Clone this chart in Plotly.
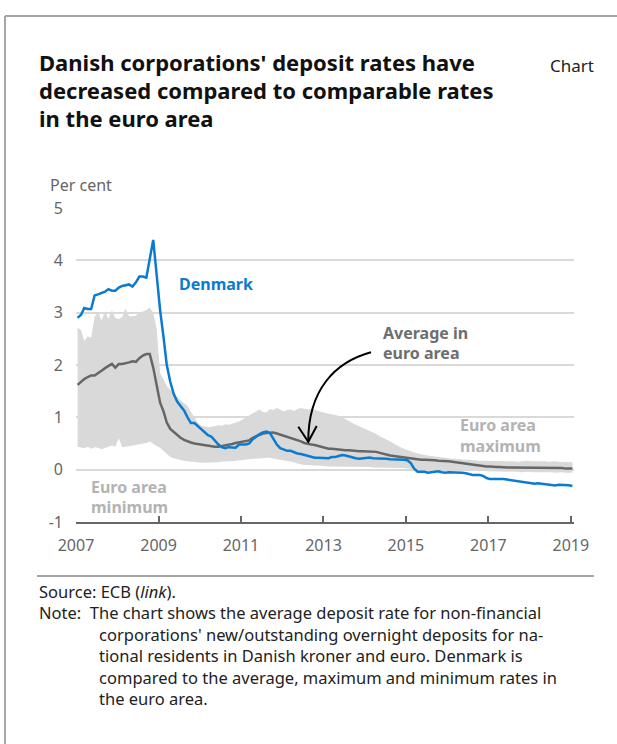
import plotly.graph_objects as go

# ---------------- data ----------------
months = [f"{2007 + m // 12}-{m % 12 + 1:02d}-15" for m in range(145)]  # Jan 2007 .. Jan 2019

denmark = [2.90, 2.96, 3.09, 3.07, 3.07, 3.33, 3.35, 3.37, 3.40, 3.45, 3.42, 3.42,
           3.48, 3.51, 3.52, 3.54, 3.50, 3.58, 3.69, 3.69, 3.67, 4.04, 4.39, 3.73,
           3.05, 2.52, 2.00, 1.68, 1.45, 1.30, 1.22, 1.13, 1.00, 0.89, 0.89, 0.83,
           0.76, 0.70, 0.66, 0.63, 0.55, 0.48, 0.43, 0.41, 0.43, 0.43, 0.42, 0.48,
           0.48, 0.48, 0.50, 0.58, 0.63, 0.68, 0.71, 0.73, 0.70, 0.60, 0.48, 0.41,
           0.38, 0.36, 0.36, 0.33, 0.31, 0.30, 0.28, 0.26, 0.24, 0.23, 0.23, 0.23,
           0.22, 0.22, 0.24, 0.24, 0.26, 0.28, 0.27, 0.25, 0.23, 0.22, 0.21, 0.22,
           0.23, 0.23, 0.22, 0.22, 0.22, 0.21, 0.21, 0.20, 0.20, 0.20, 0.19, 0.19,
           0.18, 0.12, 0.02, -0.04, -0.04, -0.04, -0.06, -0.05, -0.04, -0.03, -0.05, -0.06,
           -0.05, -0.05, -0.06, -0.06, -0.06, -0.07, -0.09, -0.10, -0.10, -0.10, -0.12, -0.16,
           -0.18, -0.18, -0.17, -0.17, -0.18, -0.19, -0.20, -0.21, -0.21, -0.22, -0.23, -0.24,
           -0.26, -0.27, -0.26, -0.27, -0.28, -0.29, -0.30, -0.30, -0.29, -0.29, -0.30, -0.30,
           -0.31]

euro_avg = [1.62, 1.68, 1.73, 1.77, 1.80, 1.80, 1.84, 1.89, 1.94, 1.98, 2.02, 1.95,
            2.02, 2.02, 2.03, 2.05, 2.07, 2.06, 2.13, 2.18, 2.21, 2.21, 1.95, 1.62,
            1.28, 1.11, 0.90, 0.78, 0.72, 0.66, 0.61, 0.57, 0.54, 0.52, 0.50, 0.49,
            0.47, 0.46, 0.45, 0.44, 0.44, 0.44, 0.45, 0.46, 0.47, 0.49, 0.51, 0.52,
            0.53, 0.54, 0.56, 0.61, 0.64, 0.67, 0.69, 0.70, 0.71, 0.71, 0.69, 0.67,
            0.64, 0.62, 0.60, 0.58, 0.56, 0.54, 0.51, 0.49, 0.48, 0.47, 0.45, 0.43,
            0.41, 0.40, 0.40, 0.39, 0.38, 0.38, 0.37, 0.37, 0.36, 0.36, 0.35, 0.35,
            0.35, 0.35, 0.34, 0.34, 0.32, 0.30, 0.29, 0.27, 0.26, 0.25, 0.24, 0.23,
            0.22, 0.21, 0.20, 0.19, 0.19, 0.19, 0.19, 0.18, 0.18, 0.17, 0.17, 0.16,
            0.16, 0.15, 0.14, 0.14, 0.13, 0.12, 0.11, 0.10, 0.09, 0.08, 0.07, 0.06,
            0.06, 0.05, 0.05, 0.05, 0.04, 0.04, 0.04, 0.04, 0.04, 0.04, 0.04, 0.04,
            0.04, 0.03, 0.03, 0.03, 0.04, 0.03, 0.03, 0.03, 0.03, 0.03, 0.02, 0.02,
            0.02]

euro_max = [2.71, 2.67, 2.46, 2.55, 2.52, 2.92, 3.02, 2.85, 3.02, 2.88, 3.05, 2.90,
            2.88, 2.92, 3.08, 2.93, 2.93, 2.94, 3.01, 3.02, 3.05, 3.10, 3.00, 2.70,
            1.85, 1.72, 1.60, 1.52, 1.45, 1.38, 1.32, 1.27, 1.22, 1.10, 0.99, 0.90,
            0.84, 0.82, 0.81, 0.82, 0.84, 0.85, 0.84, 0.87, 0.86, 0.88, 0.90, 0.92,
            0.96, 1.00, 1.05, 1.08, 1.11, 1.15, 1.10, 1.09, 1.16, 1.14, 1.18, 1.15,
            1.11, 1.14, 1.15, 1.12, 1.16, 1.18, 1.17, 1.15, 1.16, 1.15, 1.12, 1.10,
            1.09, 1.07, 1.06, 1.05, 1.03, 1.00, 0.96, 0.93, 0.89, 0.86, 0.83, 0.80,
            0.77, 0.74, 0.72, 0.68, 0.64, 0.61, 0.57, 0.54, 0.50, 0.46, 0.43, 0.40,
            0.37, 0.35, 0.33, 0.31, 0.30, 0.28, 0.27, 0.26, 0.25, 0.24, 0.24, 0.23,
            0.22, 0.21, 0.21, 0.20, 0.20, 0.19, 0.19, 0.18, 0.18, 0.17, 0.17, 0.17,
            0.16, 0.17, 0.17, 0.16, 0.16, 0.17, 0.16, 0.16, 0.15, 0.16, 0.16, 0.17,
            0.16, 0.16, 0.17, 0.16, 0.16, 0.15, 0.16, 0.16, 0.15, 0.15, 0.14, 0.15,
            0.14]

euro_min = [0.44, 0.43, 0.41, 0.44, 0.40, 0.43, 0.42, 0.39, 0.42, 0.44, 0.46, 0.44,
            0.60, 0.43, 0.44, 0.45, 0.47, 0.48, 0.48, 0.49, 0.51, 0.54, 0.49, 0.45,
            0.42, 0.36, 0.29, 0.24, 0.22, 0.20, 0.19, 0.17, 0.16, 0.15, 0.14, 0.13,
            0.13, 0.13, 0.13, 0.13, 0.14, 0.14, 0.15, 0.16, 0.16, 0.16, 0.17, 0.18,
            0.19, 0.19, 0.20, 0.21, 0.21, 0.22, 0.22, 0.23, 0.23, 0.21, 0.20, 0.19,
            0.18, 0.17, 0.16, 0.14, 0.12, 0.10, 0.09, 0.09, 0.08, 0.08, 0.08, 0.07,
            0.07, 0.06, 0.06, 0.06, 0.06, 0.06, 0.06, 0.06, 0.05, 0.05, 0.05, 0.05,
            0.05, 0.05, 0.04, 0.04, 0.04, 0.04, 0.03, 0.03, 0.03, 0.03, 0.03, 0.03,
            0.02, 0.02, 0.01, 0.01, 0.01, 0.00, 0.00, 0.01, 0.00, 0.00, -0.01, 0.00,
            -0.01, -0.01, -0.01, -0.02, -0.01, -0.02, -0.02, -0.02, -0.02, -0.03, -0.02, -0.03,
            -0.03, -0.03, -0.04, -0.03, -0.03, -0.04, -0.04, -0.04, -0.04, -0.05, -0.04, -0.04,
            -0.05, -0.05, -0.04, -0.05, -0.05, -0.05, -0.05, -0.06, -0.05, -0.05, -0.06, -0.06,
            -0.06]

x_tick_years = ["2007", "2009", "2011", "2013", "2015", "2017", "2019"]
y_ticks = [-1, 0, 1, 2, 3, 4, 5]
y_tick_labels = ["-1", "0", "1", "2", "3", "4", "5"]

# ---------------- layout helpers (pixel -> paper) ----------------
W, H = 617, 744
L, R, T, B = 76, 43, 208, 222
PW, PH = W - L - R, H - T - B


def px(x):
    return (x - L) / PW


def py(y):
    return (H - B - y) / PH


BLUE = "#0a7bd1"
DARK = "#666666"
BAND = "#d9d9d9"
FONT = "Noto Sans"

fig = go.Figure()
fig.add_trace(go.Scatter(x=months, y=euro_max, mode="lines", line=dict(width=0, color=BAND),
                         hoverinfo="skip", showlegend=False))
fig.add_trace(go.Scatter(x=months, y=euro_min, mode="lines", line=dict(width=0, color=BAND),
                         fill="tonexty", fillcolor=BAND, hoverinfo="skip", showlegend=False))
fig.add_trace(go.Scatter(x=months, y=euro_avg, mode="lines", line=dict(width=2.5, color=DARK),
                         name="Average in euro area", showlegend=False))
fig.add_trace(go.Scatter(x=months, y=denmark, mode="lines", line=dict(width=2.5, color=BLUE),
                         name="Denmark", showlegend=False))

annotations = []


def text(x, y, s, size=16, color="#222222", bold=False, anchor="left"):
    if bold:
        s = f"<b>{s}</b>"
    annotations.append(dict(x=px(x), y=py(y), xref="paper", yref="paper", text=s,
                            showarrow=False, xanchor=anchor, yanchor="middle", align="left",
                            font=dict(family=FONT, size=size, color=color)))


# Title
text(37, 62, "Danish corporations' deposit rates have", 22, "#111111", True)
text(37, 90, "decreased compared to comparable rates", 22, "#111111", True)
text(37, 118, "in the euro area", 22, "#111111", True)
text(548, 65, "Chart", 17, "#222222")
text(48, 185, "Per cent", 16, "#666666")

# Series labels
text(177, 284, "Denmark", 16, BLUE, True)
text(381, 333, "Average in", 16, "#6e6e6e", True)
text(381, 353, "euro area", 16, "#6e6e6e", True)
text(458, 425, "Euro area", 16, "#b3b3b3", True)
text(458, 446, "maximum", 16, "#b3b3b3", True)
text(89, 487, "Euro area", 16, "#b3b3b3", True)
text(89, 507, "minimum", 16, "#b3b3b3", True)

# Source / note (one block, hanging indent made with non-breaking spaces)
NOTE_SIZE = 16.5
IND = "&nbsp;" * 14
text(37, 644.5,
     "Source: ECB (<i>link</i>).<br>"
     "Note:&nbsp;&nbsp;The chart shows the average deposit rate for non-financial<br>"
     + IND + "corporations' new/outstanding overnight deposits for na-<br>"
     + IND + "tional residents in Danish kroner and euro. Denmark is<br>"
     + IND + "compared to the average, maximum and minimum rates in<br>"
     + IND + "the euro area.", NOTE_SIZE)


def pt(x, y):
    return f"{px(x):.5f},{py(y):.5f}"


shapes = [
    # frame
    dict(type="line", xref="paper", yref="paper", x0=px(5), x1=px(W + 5), y0=py(16), y1=py(16),
         line=dict(color="#a6a6a6", width=2)),
    dict(type="line", xref="paper", yref="paper", x0=px(5), x1=px(5), y0=py(16), y1=py(H + 5),
         line=dict(color="#a6a6a6", width=2)),
    dict(type="line", xref="paper", yref="paper", x0=px(37), x1=px(594), y0=py(576), y1=py(576),
         line=dict(color="#a6a6a6", width=2)),
    # curved arrow
    dict(type="path", xref="paper", yref="paper",
         path=f"M {pt(371, 352.3)} C {pt(335, 362)} {pt(308, 390)} {pt(308.3, 441.7)}",
         line=dict(color="#000000", width=2)),
    dict(type="path", xref="paper", yref="paper",
         path=f"M {pt(298.3, 426.7)} L {pt(308.3, 441.7)} L {pt(316.7, 426)}",
         line=dict(color="#000000", width=2)),
]

fig.update_layout(
    width=W, height=H,
    margin=dict(l=L, r=R, t=T, b=B, pad=0),
    paper_bgcolor="white", plot_bgcolor="white",
    showlegend=False,
    font=dict(family=FONT, size=16, color="#666666"),
    annotations=annotations,
    shapes=shapes,
    xaxis=dict(
        type="date",
        range=["2007-01-01", "2019-01-29"],
        tickvals=[f"{y}-01-01" for y in x_tick_years],
        ticktext=x_tick_years,
        ticks="inside", ticklen=6, tickwidth=1.5, tickcolor="#666666",
        showline=True, linecolor="#666666", linewidth=1.5,
        showgrid=False, zeroline=False,
        tickfont=dict(family=FONT, size=16, color="#666666"),
        ticklabelstandoff=8,
    ),
    yaxis=dict(
        range=[-1, 5],
        tickvals=y_ticks, ticktext=y_tick_labels,
        showgrid=True, gridcolor="#d9d9d9", gridwidth=1.5,
        zeroline=False, ticks="", showline=False,
        tickfont=dict(family=FONT, size=16, color="#666666"),
        ticklabelstandoff=12,
    ),
)

fig.write_html("out.html")
